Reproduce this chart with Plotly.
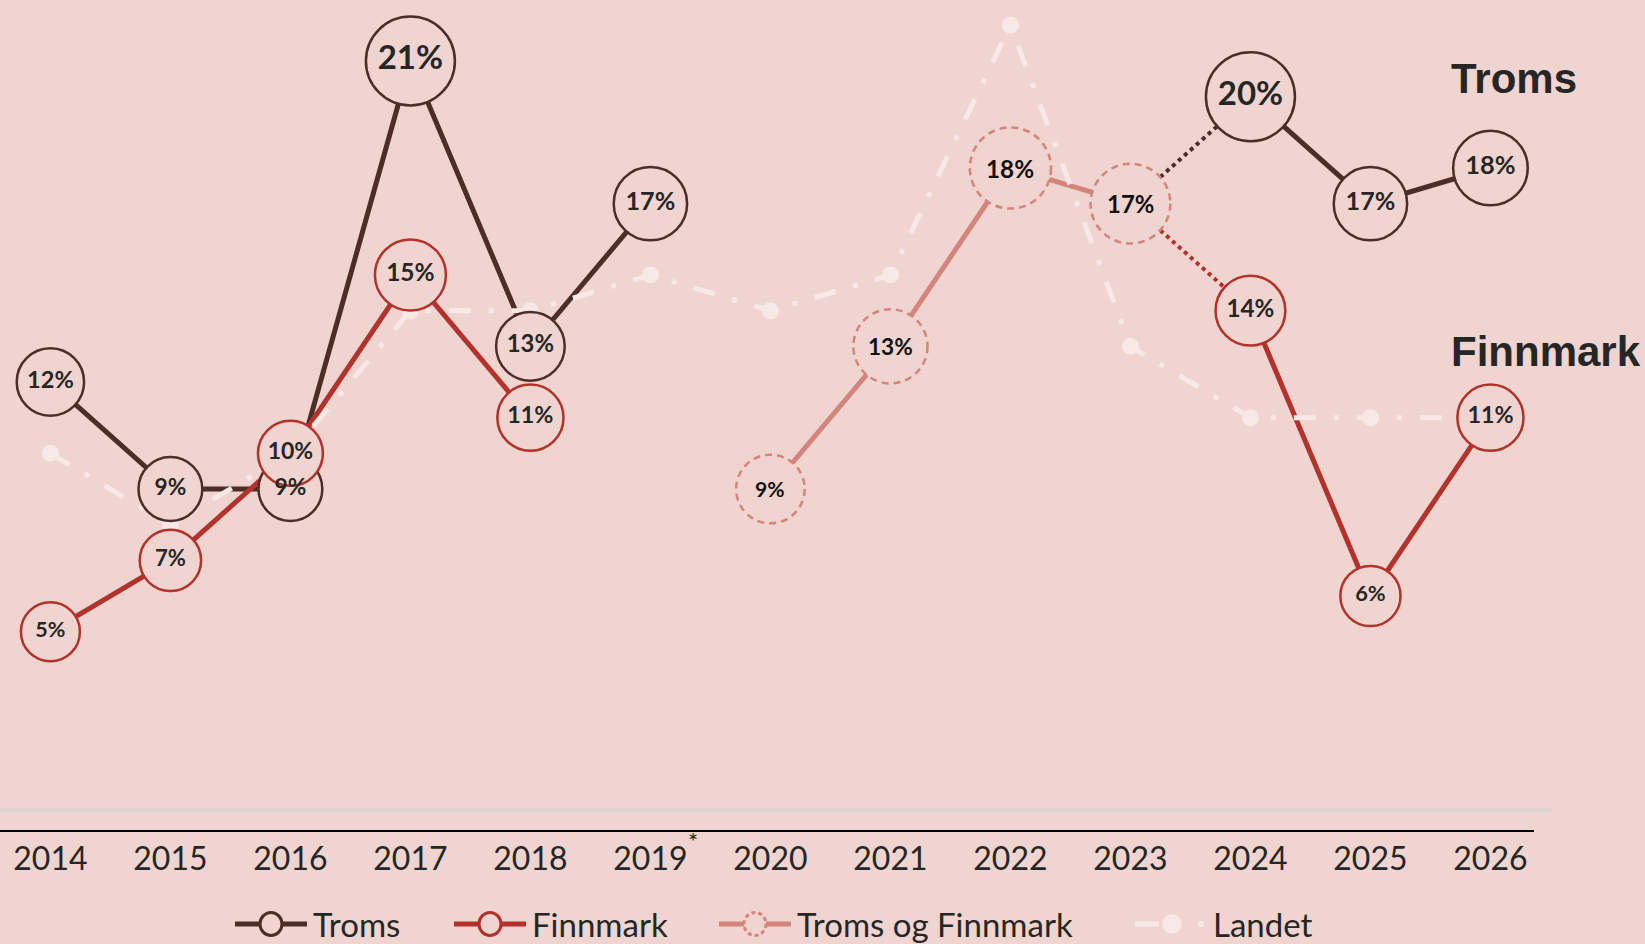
import plotly.graph_objects as go

# ---------------- data ----------------
YEARS = [2014, 2015, 2016, 2017, 2018, 2019, 2020, 2021, 2022, 2023, 2024, 2025, 2026]
TICK_LABELS = ["2014", "2015", "2016", "2017", "2018", "2019", "2020",
               "2021", "2022", "2023", "2024", "2025", "2026"]
TROMS = [12, 9, 9, 21, 13, 17, None, None, None, None, 20, 17, 18]
FINNMARK = [5, 7, 10, 15, 11, None, None, None, None, None, 14, 6, 11]
TROMS_OG_FINNMARK = [None, None, None, None, None, None, 9, 13, 18, 17, None, None, None]
LANDET = [10, 8, 10, 14, 14, 15, 14, 15, 22, 13, 11, 11, 11]
LEGEND_NAMES = ["Troms", "Finnmark", "Troms og Finnmark", "Landet"]
NOTE_YEAR = 2019
NOTE_MARK = "*"

# ---------------- styles ----------------
BG = "#EFD4D0"
C_TROMS = "#4D2D27"
C_FINN = "#B3322C"
C_TF = "#D3847B"
C_LAND = "#F8E9E7"
TXT = "#262626"
FONT = "Lato, 'Open Sans', sans-serif"
W, H = 1645, 944
M_L, M_R, M_T, M_B = 0, 111, 0, 114
PLOT_W = W - M_L - M_R
PLOT_H = H - M_T - M_B


def circle_size(v):
    return 89 if v >= 20 else 53 + 1.2 * v


def label_size(v):
    return 33 if v >= 20 else 20 + 0.3 * v


def tf_radius(v):
    return (56 + 1.4 * v) / 2


def tf_label_size(v):
    return 18 + 0.35 * v


def pct(vals):
    return [None if v is None else f"{v}%" for v in vals]


def idx(year):
    return YEARS.index(year)


fig = go.Figure()

# lines
fig.add_trace(go.Scatter(x=YEARS, y=TROMS, mode="lines", line=dict(color=C_TROMS, width=5),
                         connectgaps=False, showlegend=False, hoverinfo="skip"))
fig.add_trace(go.Scatter(x=YEARS, y=FINNMARK, mode="lines", line=dict(color=C_FINN, width=5),
                         connectgaps=False, showlegend=False, hoverinfo="skip"))
fig.add_trace(go.Scatter(x=YEARS, y=TROMS_OG_FINNMARK, mode="lines", line=dict(color=C_TF, width=5),
                         connectgaps=False, showlegend=False, hoverinfo="skip"))
# dotted connectors from the joint county to the split counties
fig.add_trace(go.Scatter(x=[2023, 2024], y=[TROMS_OG_FINNMARK[idx(2023)], TROMS[idx(2024)]],
                         mode="lines", line=dict(color=C_TROMS, width=4, dash="dot"),
                         showlegend=False, hoverinfo="skip"))
fig.add_trace(go.Scatter(x=[2023, 2024], y=[TROMS_OG_FINNMARK[idx(2023)], FINNMARK[idx(2024)]],
                         mode="lines", line=dict(color=C_FINN, width=4, dash="dot"),
                         showlegend=False, hoverinfo="skip"))

# Landet
fig.add_trace(go.Scatter(x=YEARS, y=LANDET, mode="lines+markers",
                         line=dict(color=C_LAND, width=5, dash="22px,18px,5px,18px"),
                         marker=dict(color=C_LAND, size=17, opacity=1),
                         showlegend=False, hoverinfo="skip"))

# circle markers
for vals, col in ((TROMS, C_TROMS), (FINNMARK, C_FINN)):
    sizes = [circle_size(v) if v is not None else 0 for v in vals]
    fig.add_trace(go.Scatter(
        x=YEARS, y=vals, mode="markers",
        marker=dict(size=sizes, color=BG, opacity=1, line=dict(color=col, width=2.5)),
        showlegend=False, hoverinfo="skip"))
# value labels on top of all circles
for vals in (TROMS, FINNMARK):
    fsz = [label_size(v) if v is not None else 10 for v in vals]
    fig.add_trace(go.Scatter(
        x=YEARS, y=vals, mode="text", text=pct(vals), textposition="middle center",
        textfont=dict(family=FONT, size=fsz, color=TXT, weight="bold"),
        showlegend=False, hoverinfo="skip"))

# Troms og Finnmark: dashed circles + labels
for yr, v in zip(YEARS, TROMS_OG_FINNMARK):
    if v is None:
        continue
    r = tf_radius(v)
    fig.add_shape(type="circle", xref="x", yref="y", xsizemode="pixel", ysizemode="pixel",
                  xanchor=yr, yanchor=v, x0=-r, x1=r, y0=-r, y1=r,
                  fillcolor=BG, line=dict(color=C_TF, width=2.5, dash="7px,5px"), layer="above")
    fig.add_annotation(x=yr, y=v, text=f"{v}%", showarrow=False,
                       font=dict(family=FONT, size=tf_label_size(v), color="#111111", weight="bold"))

# ---------------- legend (drawn below the axis) ----------------
LEG_Y = (PLOT_H - (924 - M_T)) / PLOT_H     # paper y of legend row
LEG_X0 = [235, 454, 719, 1135]              # pixel start of each symbol
LEG_SYM_W = 72
LEG_COLORS = [C_TROMS, C_FINN, C_TF, C_LAND]


def px(xpix):
    return (xpix - M_L) / PLOT_W


for i, (name, col) in enumerate(zip(LEGEND_NAMES, LEG_COLORS)):
    x0 = LEG_X0[i]
    if name != "Landet":
        fig.add_shape(type="line", xref="paper", yref="paper", x0=px(x0), x1=px(x0 + LEG_SYM_W),
                      y0=LEG_Y, y1=LEG_Y, line=dict(color=col, width=5))
        dash = "4px,3px" if name == "Troms og Finnmark" else "solid"
        fig.add_shape(type="circle", xref="paper", yref="paper", xsizemode="pixel", ysizemode="pixel",
                      xanchor=px(x0 + LEG_SYM_W / 2), yanchor=LEG_Y, x0=-11, x1=11, y0=-11.5, y1=11.5,
                      fillcolor=BG, line=dict(color=col, width=3, dash=dash))
    else:
        fig.add_shape(type="line", xref="paper", yref="paper", x0=px(x0), x1=px(x0 + 24),
                      y0=LEG_Y, y1=LEG_Y, line=dict(color=col, width=5))
        fig.add_shape(type="circle", xref="paper", yref="paper", xsizemode="pixel", ysizemode="pixel",
                      xanchor=px(x0 + 37), yanchor=LEG_Y, x0=-10, x1=10, y0=-10, y1=10,
                      fillcolor=col, line=dict(width=0))
        fig.add_shape(type="circle", xref="paper", yref="paper", xsizemode="pixel", ysizemode="pixel",
                      xanchor=px(x0 + 66), yanchor=LEG_Y, x0=-3, x1=3, y0=-3, y1=3,
                      fillcolor=col, line=dict(width=0))
    fig.add_annotation(xref="paper", yref="paper", x=px(x0 + LEG_SYM_W + 4), y=LEG_Y,
                       xanchor="left", yanchor="middle", text=name, showarrow=False,
                       font=dict(family=FONT, size=33, color=TXT))

# zero line (light grey)
fig.add_shape(type="line", xref="paper", yref="y", x0=0, x1=1.011, y0=0, y1=0,
              line=dict(color="#DAD5D4", width=3), layer="below")

# series labels on the right
fig.add_annotation(xref="paper", yref="paper", x=0.9446, y=0.906, xanchor="left", yanchor="middle",
                   text="<b>Troms</b>", showarrow=False,
                   font=dict(family="Liberation Sans, Arial", size=42, color=TXT))
fig.add_annotation(xref="paper", yref="paper", x=0.9446, y=0.577, xanchor="left", yanchor="middle",
                   text="<b>Finnmark</b>", showarrow=False,
                   font=dict(family="Liberation Sans, Arial", size=42, color=TXT))
# footnote mark on 2019
fig.add_annotation(x=NOTE_YEAR, xref="x", yref="paper", y=-0.013, yanchor="middle", xshift=43,
                   text=NOTE_MARK, showarrow=False, font=dict(family=FONT, size=24, color=TXT))

fig.update_layout(
    width=W, height=H,
    paper_bgcolor=BG, plot_bgcolor=BG,
    margin=dict(l=M_L, r=M_R, t=M_T, b=M_B, autoexpand=False),
    showlegend=False,
    xaxis=dict(range=[2013.58, 2026.363], tickvals=YEARS, ticktext=TICK_LABELS,
               showgrid=False, zeroline=False, showline=True, linecolor="#000000", linewidth=2,
               ticks="", tickfont=dict(family=FONT, size=32, color=TXT), fixedrange=True),
    yaxis=dict(range=[-0.56, 22.71], visible=False, showgrid=False, zeroline=False, fixedrange=True),
)

fig.write_html("out.html", config={"displayModeBar": False},
               post_script="document.body.style.margin='0';document.body.style.overflow='hidden';")
